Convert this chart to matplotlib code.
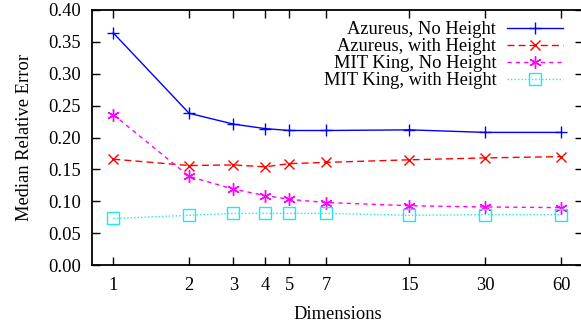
import numpy as np
import matplotlib
matplotlib.use("Agg")
import matplotlib.pyplot as plt
from matplotlib.ticker import FixedLocator, NullLocator

plt.rcParams['font.family'] = ['Liberation Serif', 'DejaVu Serif']

dims = [1, 2, 3, 4, 5, 7, 15, 30, 60]
azureus_no = [0.364, 0.238, 0.221, 0.214, 0.211, 0.211, 0.212, 0.208, 0.208]
azureus_with = [0.166, 0.156, 0.157, 0.154, 0.159, 0.161, 0.165, 0.168, 0.170]
mit_no = [0.236, 0.139, 0.119, 0.109, 0.103, 0.098, 0.093, 0.091, 0.090]
mit_with = [0.073, 0.078, 0.081, 0.081, 0.081, 0.081, 0.078, 0.079, 0.079]

fig = plt.figure(figsize=(5.81, 3.24), dpi=100)
W, H = 581, 324
# pixel box of the plot area
x0, x1, y0, y1 = 92, 583, 10, 265
ax = fig.add_axes([x0 / W, 1 - y1 / H, (x1 - x0) / W, (y1 - y0) / H])

ax.plot(dims, azureus_no, color='#0000ff', lw=1, marker='+', ms=8, mew=1,
        label='Azureus, No Height')
ax.plot(dims, azureus_with, color='#ff0000', lw=1, ls=(0, (5, 3)), marker='x', ms=7, mew=1,
        label='Azureus, with Height')
ax.plot(dims, mit_no, color='#ff00ff', lw=1, ls=(0, (3, 3)), marker=(6, 2, 0), ms=9, mew=1,
        label='MIT King, No Height')
ax.plot(dims, mit_with, color='#1eeaee', lw=1, ls=(0, (1, 1.5)), marker='s', ms=8, mew=1,
        mfc='none', label='MIT King, with Height')

ax.set_xscale('log')
px = 75.8
ax.set_xlim(2 ** ((x0 - 113.3) / px), 2 ** ((x1 - 113.3) / px))
ax.xaxis.set_major_locator(FixedLocator(dims))
ax.xaxis.set_minor_locator(NullLocator())
ax.set_xticklabels([str(d) for d in dims])
ax.set_ylim(0, 0.40)
ax.set_yticks(np.arange(0, 0.401, 0.05))
ax.set_yticklabels(['%.2f' % v for v in np.arange(0, 0.401, 0.05)])

fs = 13.3
ax.tick_params(direction='in', length=6, width=1, top=True, right=True,
               labelsize=fs)
ax.tick_params(axis='x', pad=9)
ax.tick_params(axis='y', pad=8)
for s in ax.spines.values():
    s.set_linewidth(1.3)

ax.set_xlabel('Dimensions', fontsize=fs, labelpad=8)
ax.set_ylabel('Median Relative Error', fontsize=fs, labelpad=11)

leg = ax.legend(loc='upper right', frameon=False, markerfirst=False,
                fontsize=fs, handlelength=3.0, labelspacing=0.0,
                borderaxespad=0.0, bbox_to_anchor=(0.974, 0.985), handletextpad=0.6)
for t in leg.get_texts():
    t.set_ha('right')
leg._legend_box.align = 'right'

fig.savefig('out.png', dpi=100)
